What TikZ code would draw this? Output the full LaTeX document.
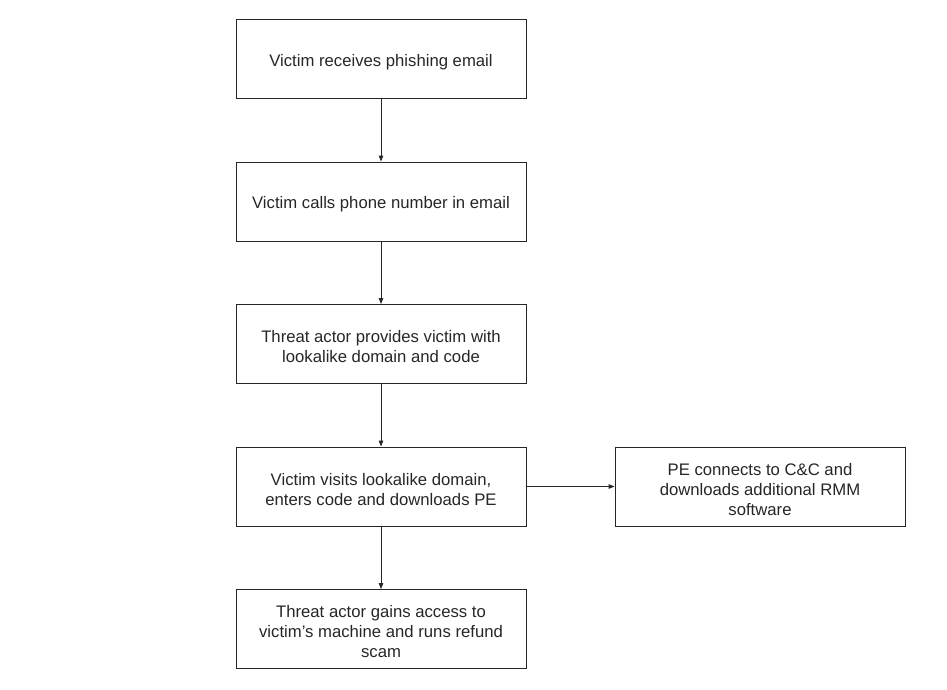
\documentclass[tikz,border=0pt]{standalone}
\usepackage{fontspec}
\setmainfont{Liberation Sans}
\usetikzlibrary{arrows.meta}
\begin{document}
\begin{tikzpicture}[x=1pt,y=-1pt,
  stepbox/.style={draw=black!85, line width=0.9pt, minimum width=290pt, minimum height=79pt, inner sep=0pt},
  steptext/.style={align=center, inner sep=0pt, font=\fontsize{16.7}{20}\selectfont, text=black!85, yshift=-3pt},
  conn/.style={draw=black!85, line width=0.9pt, -{Triangle[length=6pt,width=4.5pt]}}]
\useasboundingbox (0,0) rectangle (947,690);
\node[stepbox, label={[steptext]center:Victim receives phishing email}] (b1) at (381,59) {};
\node[stepbox, label={[steptext]center:Victim calls phone number in email}] (b2) at (381,201.5) {};
\node[stepbox, label={[steptext]center:{Threat actor provides victim with\\lookalike domain and code}}] (b3) at (381,344) {};
\node[stepbox, label={[steptext]center:{Victim visits lookalike domain,\\enters code and downloads PE}}] (b4) at (381,486.5) {};
\node[stepbox, label={[steptext]center:{Threat actor gains access to\\victim’s machine and runs refund\\scam}}] (b5) at (381,629) {};
\node[stepbox, label={[steptext]center:{PE connects to C\&C and\\downloads additional RMM\\software}}] (b6) at (760,486.5) {};
\draw[conn] (b1) -- (b2);
\draw[conn] (b2) -- (b3);
\draw[conn] (b3) -- (b4);
\draw[conn] (b4) -- (b5);
\draw[conn] (b4) -- (b6);
\end{tikzpicture}
\end{document}
